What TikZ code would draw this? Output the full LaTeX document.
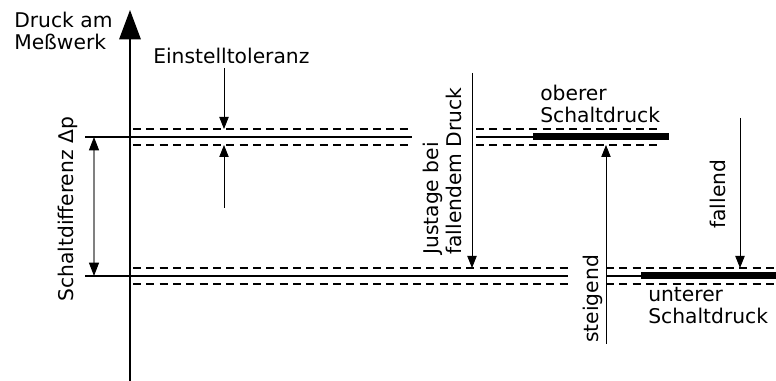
\documentclass[tikz,border=0pt]{standalone}
\usepackage{fontspec}
\setmainfont{DejaVu Sans}
\usetikzlibrary{arrows.meta}

\begin{document}
\begin{tikzpicture}[
  x=0.75pt, y=-0.75pt,
  every node/.style={font=\fontsize{15.2}{17}\selectfont, inner sep=0pt},
  level/.style={line width=1.5pt},
  band/.style={line width=5.25pt},
  tol/.style={line width=0.9pt, dash pattern=on 6pt off 4pt},
  pointer/.style={line width=0.6pt, -{Triangle[length=9pt,width=7pt]}}
  ]
  \useasboundingbox (0,0) rectangle (776,381);

  % pressure axis
  \coordinate (NAxisBot) at (130,381);
  \coordinate (NAxisTop) at (130,10);
  \draw[line width=1.5pt, -{Triangle[length=22pt,width=16pt]}] (NAxisBot) -- (NAxisTop);
  \node[anchor=base west, align=left] (NAxisLbl) at (14,50) {Druck am\\Meßwerk};

  % upper switching point
  \coordinate (NUpA) at (85,137);
  \coordinate (NUpB) at (412,137);
  \coordinate (NUpC) at (476,137);
  \coordinate (NUpD) at (533,137);
  \coordinate (NUpE) at (669,137);
  \draw[level] (NUpA) -- (NUpB);
  \draw[level] (NUpC) -- (NUpD);
  \draw[band]  (NUpD) -- (NUpE);

  % lower switching point
  \coordinate (NLoA) at (85,276);
  \coordinate (NLoB) at (568,276);
  \coordinate (NLoC) at (606,276);
  \coordinate (NLoD) at (641,276);
  \coordinate (NLoE) at (776,276);
  \draw[level] (NLoA) -- (NLoB);
  \draw[level] (NLoC) -- (NLoD);
  \draw[band]  (NLoD) -- (NLoE);

  % tolerance limits
  \foreach \y/\xb/\xc/\xd in {129/410/476/662, 145/410/476/662,
                              268/568/606/776, 284/568/606/776} {
    \draw[tol] (133,\y) -- (\xb,\y);
    \draw[tol] (\xc,\y) -- (\xd,\y);
  }

  % switching difference
  \coordinate (NDiffTop) at (94,137);
  \coordinate (NDiffBot) at (94,276);
  \draw[gray, line width=0.8pt,
        {Triangle[length=10pt,width=7.5pt,color=black]}-{Triangle[length=10pt,width=7.5pt,color=black]}]
    (NDiffTop) -- (NDiffBot);
  \node[rotate=90, anchor=base west] (NDiffLbl) at (73,302) {Schaltdifferenz Δp};

  % adjustment tolerance
  \node[anchor=base west] (NTolLbl) at (153,64) {Einstelltoleranz};
  \coordinate (NTolA) at (224,68);
  \coordinate (NTolB) at (224,129);
  \coordinate (NTolC) at (224,208);
  \coordinate (NTolD) at (224,145);
  \draw[pointer] (NTolA) -- (NTolB);
  \draw[pointer] (NTolC) -- (NTolD);

  % adjustment with falling pressure
  \coordinate (NJusA) at (472,73);
  \coordinate (NJusB) at (472,268);
  \draw[pointer] (NJusA) -- (NJusB);
  \node[rotate=90, anchor=south west, align=left] (NJusLbl) at (462,255) {Justage bei\\fallendem Druck};

  % rising
  \coordinate (NRiseA) at (606,344);
  \coordinate (NRiseB) at (606,145);
  \draw[pointer] (NRiseA) -- (NRiseB);
  \node[rotate=90, anchor=base west] (NRiseLbl) at (598,343) {steigend};
  \node[anchor=base west, align=left] (NUpLbl) at (540,123) {oberer\\Schaltdruck};

  % falling
  \coordinate (NFallA) at (740,118);
  \coordinate (NFallB) at (740,268);
  \draw[pointer] (NFallA) -- (NFallB);
  \node[rotate=90, anchor=base west] (NFallLbl) at (725,229) {fallend};
  \node[anchor=base west, align=left] (NLoLbl) at (648,324) {unterer\\Schaltdruck};
\end{tikzpicture}
\end{document}
